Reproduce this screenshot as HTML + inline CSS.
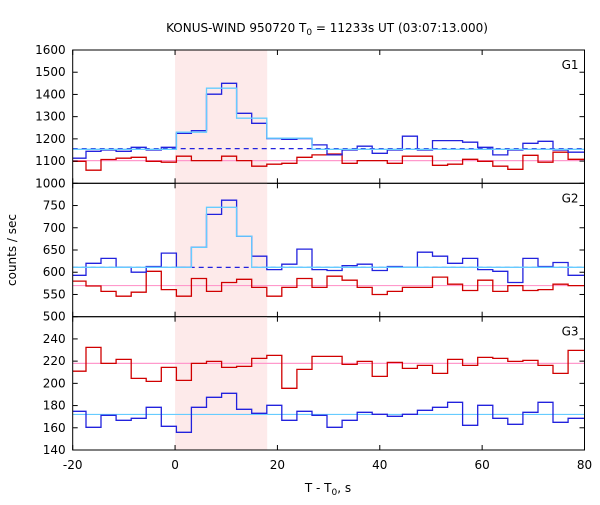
<!DOCTYPE html>
<html><head><meta charset="utf-8">
<style>
body{margin:0;background:#fff;}
svg text{font-family:"DejaVu Sans","Liberation Sans",sans-serif;font-size:12px;fill:#000;}
</style></head>
<body>
<svg id="chart" width="600" height="500" xmlns="http://www.w3.org/2000/svg">
<text x="327" y="32" text-anchor="middle">KONUS-WIND 950720 T<tspan font-size="9" dy="3">0</tspan><tspan dy="-3"> = 11233s UT (03:07:13.000)</tspan></text>
<text x="328" y="492" text-anchor="middle">T - T<tspan font-size="9" dy="3">0</tspan><tspan dy="-3">, s</tspan></text>
<text transform="translate(16,250) rotate(-90)" text-anchor="middle">counts / sec</text>
<g id="plots"></g>
</svg>
<script>
const xTicks=[-20,0,20,40,60,80];
const shadeRange=[0,18];
const binStart=-17.41, binWidth=2.944;
const g1Red=[1099,1059,1107,1113,1117,1099,1095,1122,1102,1102,1122,1102,1077,1086,1090,1117,1128,1132,1090,1102,1102,1090,1122,1122,1081,1086,1108,1099,1077,1063,1126,1095,1140,1108];
const g1Blue=[1113,1144,1150,1144,1162,1150,1162,1225,1237,1401,1450,1315,1270,1201,1198,1201,1173,1128,1150,1167,1135,1150,1212,1150,1192,1192,1185,1162,1128,1150,1180,1189,1150,1140];
const g1Cyan=[1153,1153,1153,1153,1153,1153,1153,1230,1230,1428,1428,1293,1293,1203,1203,1203,1153,1153,1153,1153,1153,1153,1153,1153,1153,1153,1153,1153,1153,1153,1153,1153,1153,1153];
const g2Red=[580,569,557,546,555,602,561,546,586,557,577,584,566,546,566,586,566,591,582,566,550,557,566,566,589,573,559,582,557,570,559,561,573,570];
const g2Blue=[593,620,631,611,600,613,643,611,656,730,762,681,636,606,618,652,606,604,615,618,604,613,611,645,636,620,631,606,602,577,631,613,622,593];
const g2Cyan=[611,611,611,611,611,611,611,611,656,746,746,681,611,611,611,611,611,611,611,611,611,611,611,611,611,611,611,611,611,611,611,611,611,611];
const g3Red=[210.9,232.4,218,221.6,204.5,201.8,214.4,202.7,218,219.8,214.4,215.3,222.5,225.2,195.5,212.6,224.3,224.3,217.1,219.8,206.3,218.9,213.5,216.2,209,221.6,216.2,223.4,222.5,219.8,220.7,216.2,209,229.7];
const g3Blue=[174.8,160.4,171.2,166.7,168.5,178.4,161.3,155.9,178.4,187.4,191,176.6,173,180.2,166.7,174.8,171.2,160.4,166.7,173.9,172.1,170.3,172.1,175.7,178.4,182.9,162.2,180.2,168.5,163.1,173.9,182.9,164.9,168.5];
const g1Ticks=[1000,1100,1200,1300,1400,1500,1600];
const g2Ticks=[500,550,600,650,700,750];
const g3Ticks=[140,160,180,200,220,240];
const g1Bg=[1102,1156], g2Bg=[570,611], g3Bg=[218,172];

const X0=72.7,X1=584.5;
const xs=t=>X0+(t+20)/100*(X1-X0);
const panels=[
 {name:'g1',label:'G1',top:50,bot:183.3,min:1000,max:1600,ticks:g1Ticks,red:g1Red,blue:g1Blue,cyan:g1Cyan,bg:g1Bg,dash:true},
 {name:'g2',label:'G2',top:183.3,bot:316.7,min:500,max:800,ticks:g2Ticks,red:g2Red,blue:g2Blue,cyan:g2Cyan,bg:g2Bg,dash:true},
 {name:'g3',label:'G3',top:316.7,bot:450,min:140,max:260,ticks:g3Ticks,red:g3Red,blue:g3Blue,cyan:null,bg:g3Bg,dash:false}
];
const NS='http://www.w3.org/2000/svg';
const root=document.getElementById('plots');
function mk(tag,attrs,parent){const e=document.createElementNS(NS,tag);for(const k in attrs)e.setAttribute(k,attrs[k]);(parent||root).appendChild(e);return e;}
function edges(n){const e=[-20];for(let i=1;i<n;i++)e.push(binStart+(i-1)*binWidth);e.push(80);return e;}
function stepPath(vals,ys){const e=edges(vals.length);let d='';for(let i=0;i<vals.length;i++){const y=ys(vals[i]).toFixed(1);d+=(i?'L':'M')+xs(e[i]).toFixed(1)+','+y+'L'+xs(e[i+1]).toFixed(1)+','+y;}return d;}

panels.forEach(p=>{
 const ys=v=>p.bot-(v-p.min)/(p.max-p.min)*(p.bot-p.top);
 const g=mk('g',{});
 
 
 const sh=mk('rect',{x:xs(shadeRange[0]),y:p.top,width:xs(shadeRange[1])-xs(shadeRange[0]),height:p.bot-p.top,fill:'#fdeaea'},g);
 
 
 const pk=mk('line',{x1:X0,x2:X1,y1:ys(p.bg[0]),y2:ys(p.bg[0]),stroke:'#ff99cc','stroke-width':1.2},g);
 
 
 const bl=mk('line',{x1:X0,x2:X1,y1:ys(p.bg[1]),y2:ys(p.bg[1]),stroke:p.dash?'#2222dd':'#66ccff','stroke-width':1.2,'stroke-dasharray':p.dash?'5,4':'none'},g);
 
 
 const r=mk('path',{d:stepPath(p.red,ys),fill:'none',stroke:'#d00000','stroke-width':1.3},g);
 
 
 const b=mk('path',{d:stepPath(p.blue,ys),fill:'none',stroke:'#2222dd','stroke-width':1.3},g);
 
 
 if(p.cyan){
  const c=mk('path',{d:stepPath(p.cyan,ys),fill:'none',stroke:'#66ccff','stroke-width':1.3},g);
  
  
 }
 p.ticks.forEach(v=>{
  const y=ys(v);
  mk('line',{x1:X0,x2:X0+5,y1:y,y2:y,stroke:'#000'},g);
  mk('line',{x1:X1-5,x2:X1,y1:y,y2:y,stroke:'#000'},g);
  const t=mk('text',{x:X0-7,y:y+4,'text-anchor':'end'},g);
  t.textContent=v;
  
  
 });
 xTicks.forEach(v=>{
  const x=xs(v);
  mk('line',{x1:x,x2:x,y1:p.bot,y2:p.bot-5,stroke:'#000'},g);
  mk('line',{x1:x,x2:x,y1:p.top,y2:p.top+5,stroke:'#000'},g);
 });
 const fr=mk('rect',{x:X0,y:p.top,width:X1-X0,height:p.bot-p.top,fill:'none',stroke:'#000','stroke-width':1},g);
 
 
 const lb=mk('text',{x:X1-6,y:p.top+19,'text-anchor':'end'},g);
 lb.textContent=p.label;
 
 
});
xTicks.forEach(v=>{
 const t=mk('text',{x:xs(v),y:469,'text-anchor':'middle'});
 t.textContent=v;
 
 
});
</script>
</body></html>
